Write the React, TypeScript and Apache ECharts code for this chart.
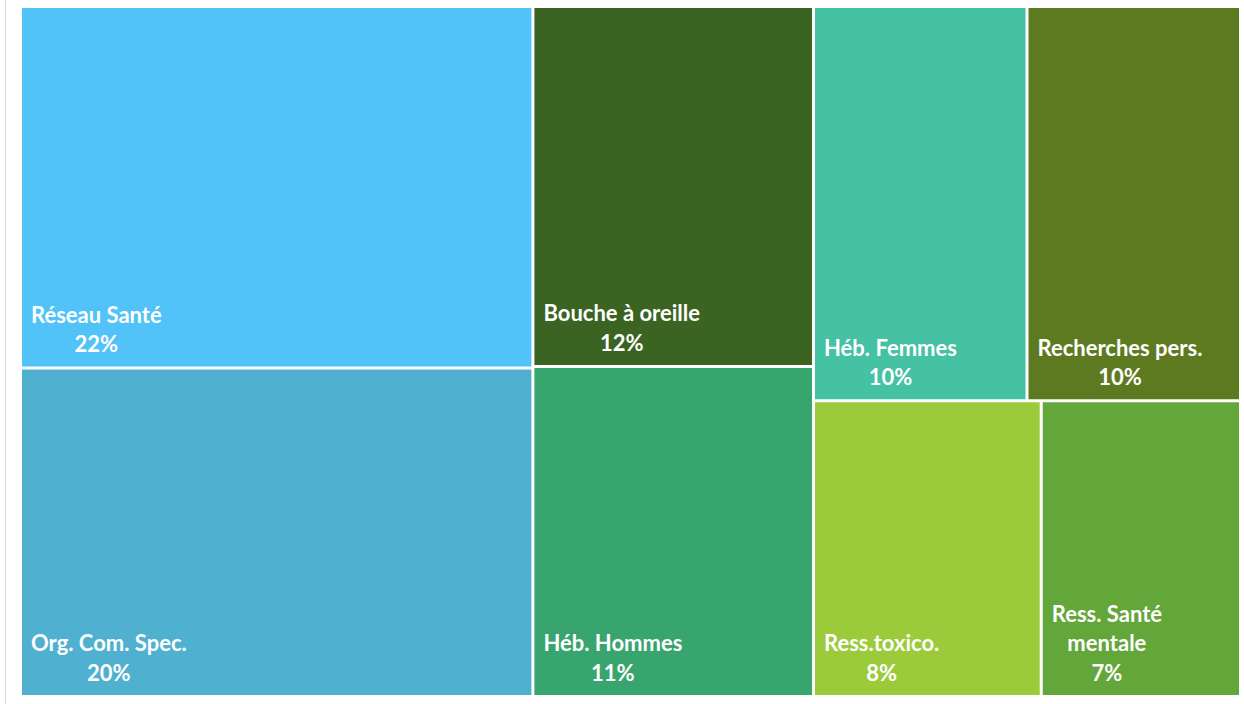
import React, { useEffect, useRef } from "react";
import * as echarts from "echarts";

const names = [
  "Réseau Santé",
  "Org. Com. Spec.",
  "Bouche à oreille",
  "Héb. Hommes",
  "Héb. Femmes",
  "Recherches pers.",
  "Ress.toxico.",
  "Ress. Santé mentale",
];
const labelTexts = [
  "Réseau Santé",
  "Org. Com. Spec.",
  "Bouche à oreille",
  "Héb. Hommes",
  "Héb. Femmes",
  "Recherches pers.",
  "Ress.toxico.",
  "Ress. Santé\nmentale",
];
const values = [22, 20, 12, 11, 10, 10, 8, 7];
const colors = [
  "#52C3F9",
  "#4FB1CF",
  "#3B6322",
  "#38A56F",
  "#45C1A4",
  "#5E7A21",
  "#9BCB3B",
  "#63A63A",
];

const FONT_FAMILY = "Lato";
const FONT_SIZE = 22;
const LINE_HEIGHT = 29.5;

export default function App() {
  const ref = useRef<HTMLDivElement>(null);
  useEffect(() => {
    if (!ref.current) return;
    const chart = echarts.init(ref.current, null, { renderer: "svg" });
    const canvas = document.createElement("canvas");
    const ctx = canvas.getContext("2d")!;
    ctx.font = `bold ${FONT_SIZE}px ${FONT_FAMILY}`;

    const data = names.map((n, i) => {
      const lines = [...labelTexts[i].split("\n"), `${values[i]}%`];
      const w = Math.max(...lines.map((l) => ctx.measureText(l).width));
      return {
        name: n,
        value: values[i],
        itemStyle: { color: colors[i] },
        label: { offset: [w / 2 + 1, 5] },
      };
    });

    chart.setOption({
      animation: false,
      graphic: [
        {
          type: "line",
          shape: { x1: 5.5, y1: 0, x2: 5.5, y2: 704 },
          style: { stroke: "#dadada", lineWidth: 1 },
          silent: true,
        },
      ],
      series: [
        {
          type: "treemap",
          left: 22,
          top: 8,
          width: 1217,
          height: 687,
          sort: false,
          squareRatio: 1,
          roam: false,
          nodeClick: false,
          breadcrumb: { show: false },
          itemStyle: { borderWidth: 0, gapWidth: 3, borderColor: "#ffffff" },
          label: {
            show: true,
            position: "insideBottomLeft",
            distance: 8,
            color: "#ffffff",
            fontFamily: FONT_FAMILY,
            fontWeight: "bold",
            fontSize: FONT_SIZE,
            lineHeight: LINE_HEIGHT,
            align: "center",
            formatter: (p: any) => `${labelTexts[names.indexOf(p.name)]}\n${p.value}%`,
          },
          data,
        },
      ],
    });
    return () => chart.dispose();
  }, []);
  return (
    <div
      ref={ref}
      style={{ position: "fixed", left: 0, top: 0, width: 1244, height: 704, background: "#fff" }}
    />
  );
}
